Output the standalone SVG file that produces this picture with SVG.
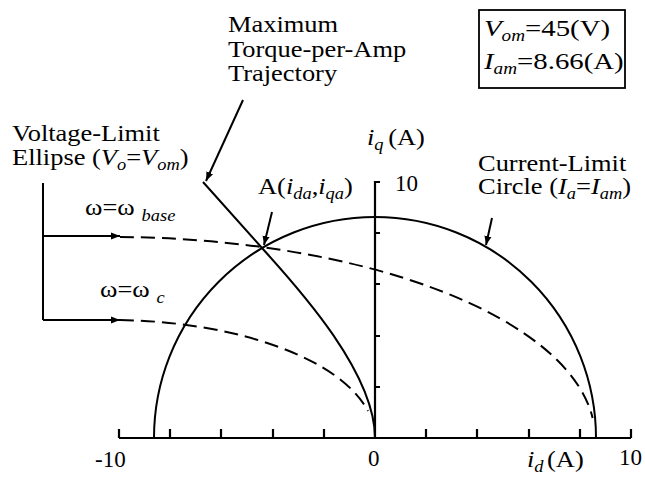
<svg xmlns="http://www.w3.org/2000/svg" width="645" height="479" viewBox="0 0 645 479">
<style>
text{font-family:"Liberation Serif","Times New Roman",serif;font-size:23px;fill:#000}
.it{font-style:italic}
.sub{font-style:italic;font-size:16px}
.big{font-size:24px}
.ln{fill:none;stroke:#000;stroke-width:2}
.dash{fill:none;stroke:#000;stroke-width:2;stroke-dasharray:14 7}
.ax{fill:none;stroke:#000;stroke-width:2.2}
</style>
<defs>
<marker id="ah" viewBox="0 0 10 10" refX="10" refY="5" markerWidth="9" markerHeight="9" markerUnits="userSpaceOnUse" orient="auto">
<path d="M0,1 L10,5 L0,9 Z" fill="#000"/>
</marker>
</defs>
<rect width="645" height="479" fill="#fff"/>

<g id="axes">
<path class="ax" d="M119,438 H631 M119,438 V429 M631,438 V429 M170,438 V429 M221,438 V429 M273,438 V429 M324,438 V429 M426,438 V429 M477,438 V429 M529,438 V429 M580,438 V429"/>
<path class="ax" d="M375,438 V182 H380 M375,233 H380 M375,284 H380 M375,336 H380 M375,387 H380"/>
<text x="95" y="467">-10</text>
<text x="368" y="466">0</text>
<text x="619" y="465">10</text>
<text x="395" y="191">10</text>
<text transform="translate(527,467) scale(1.15,1)"><tspan class="it">i</tspan><tspan class="sub" dy="5">d</tspan><tspan dy="-5" dx="3">(A)</tspan></text>
<text transform="translate(367,145) scale(1.15,1)"><tspan class="it">i</tspan><tspan class="sub" dy="5">q</tspan><tspan dy="-5" dx="4">(A)</tspan></text>
</g>

<g id="current-limit-circle">
<path class="ln" d="M154,438 A221,221 0 0 1 596,438"/>
<text transform="translate(478,171) scale(1.15,1)">Current-Limit</text>
<text transform="translate(478,194) scale(1.15,1)">Circle (<tspan class="it">I</tspan><tspan class="sub" dy="5">a</tspan><tspan dy="-5">=</tspan><tspan class="it">I</tspan><tspan class="sub" dy="5">am</tspan><tspan dy="-5">)</tspan></text>
</g>

<g id="voltage-limit-base">
<path class="dash" d="M120,237 A485,201 0 0 1 592.6,418"/>
<text transform="translate(85,215) scale(1.15,1)">ω=ω<tspan class="sub" dx="6" dy="6">base</tspan></text>
</g>

<g id="voltage-limit-c">
<path class="dash" d="M120,320 A265,118 0 0 1 368,411"/>
<text transform="translate(100,297) scale(1.15,1)">ω=ω<tspan class="sub" dx="6" dy="6">c</tspan></text>
</g>

<g id="voltage-limit-label">
<text transform="translate(12,141) scale(1.15,1)">Voltage-Limit</text>
<text transform="translate(12,165) scale(1.15,1)">Ellipse (<tspan class="it">V</tspan><tspan class="sub" dy="5">o</tspan><tspan dy="-5">=</tspan><tspan class="it">V</tspan><tspan class="sub" dy="5">om</tspan><tspan dy="-5">)</tspan></text>
</g>

<g id="mtpa">
<path class="ln" d="M203,182 L262,248 C292,281.5 375,370 375,438"/>
<text transform="translate(228,32) scale(1.15,1)">Maximum</text>
<text transform="translate(228,57) scale(1.15,1)">Torque-per-Amp</text>
<text transform="translate(228,81) scale(1.15,1)">Trajectory</text>
</g>

<g id="point-a">
<text transform="translate(258,194) scale(1.15,1)">A(<tspan class="it">i</tspan><tspan class="sub" dy="5">da</tspan><tspan dy="-5">,</tspan><tspan class="it">i</tspan><tspan class="sub" dy="5">qa</tspan><tspan dy="-5">)</tspan></text>
</g>

<g id="params">
<rect x="479" y="10" width="146" height="78" fill="none" stroke="#000" stroke-width="1.8"/>
<text class="big" transform="translate(484,36) scale(1.2,1)"><tspan class="it">V</tspan><tspan class="sub" dy="5">om</tspan><tspan dy="-5">=45(V)</tspan></text>
<text class="big" transform="translate(484,69) scale(1.2,1)"><tspan class="it">I</tspan><tspan class="sub" dy="5">am</tspan><tspan dy="-5">=8.66(A)</tspan></text>
</g>

<g id="connectors">
<path class="ln" d="M43,183 V320"/>
<path class="ln" d="M43,236 H120" marker-end="url(#ah)"/>
<path class="ln" d="M43,320 H120" marker-end="url(#ah)"/>
<path class="ln" d="M243,100 L206,181" marker-end="url(#ah)"/>
<path class="ln" d="M272,212 L264,245" marker-end="url(#ah)"/>
<path class="ln" d="M492,218 L486,245" marker-end="url(#ah)"/>
</g>
</svg>
